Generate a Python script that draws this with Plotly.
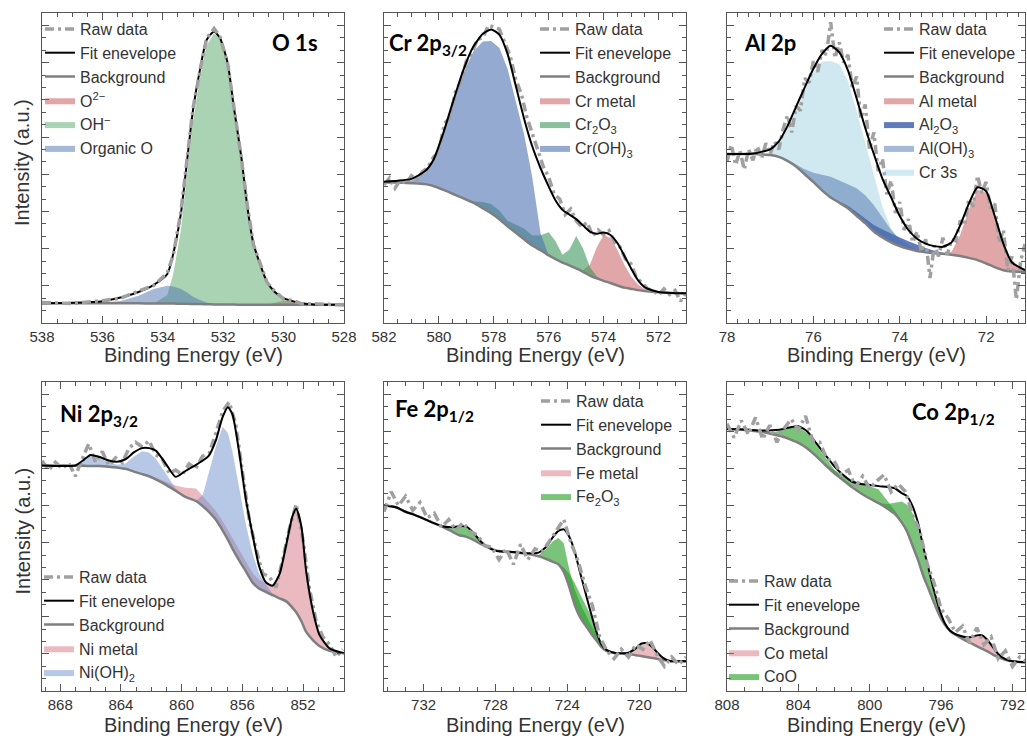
import plotly.graph_objects as go

# ---------------- O 1s ----------------
o_x = [538.0, 537.0, 536.0, 535.4, 534.8, 534.3, 533.85, 533.65, 533.4, 533.2, 533.0, 532.75, 532.55, 532.3,
       532.1, 531.85, 531.65, 531.4, 531.2, 531.0, 530.75, 530.55, 530.3, 530.0, 529.65, 529.4, 529.0, 528.0]
o_env = [6.4, 6.5, 7.0, 8.2, 10.0, 12.3, 15.8, 22.5, 35.4, 52.0, 68.7, 82.7, 91.3, 94.0,
         91.8, 83.8, 69.8, 53.6, 37.5, 25.7, 18.2, 13.3, 10.1, 8.0, 6.9, 6.4, 6.0, 5.9]
o_bg = [6.4, 6.4, 6.4, 6.4, 6.35, 6.3, 6.3, 6.25, 6.2, 6.2, 6.15, 6.1, 6.05, 6.0,
        6.0, 5.95, 5.95, 5.9, 5.9, 5.9, 5.9, 5.9, 5.9, 5.9, 5.9, 5.9, 5.9, 5.9]
o_o2 = [6.4, 6.4, 6.4, 6.4, 6.35, 6.3, 6.3, 6.25, 6.2, 6.2, 6.15, 6.1, 6.05, 6.0,
        6.0, 5.95, 5.95, 5.9, 5.9, 5.9, 5.9, 6.0, 6.5, 7.2, 7.2, 6.6, 6.0, 5.9]
o_oh = [6.4, 6.4, 6.4, 6.4, 6.35, 6.3, 9.0, 16.0, 30.0, 47.0, 65.0, 80.0, 89.5, 93.5,
        91.5, 83.6, 69.6, 53.4, 37.3, 25.5, 18.0, 13.0, 9.8, 7.6, 6.4, 6.0, 5.9, 5.9]
o_org = [6.4, 6.5, 6.6, 7.1, 8.8, 11.0, 12.0, 11.8, 11.0, 9.8, 8.5, 7.3, 6.6, 6.2,
         6.0, 5.95, 5.95, 5.9, 5.9, 5.9, 5.9, 5.9, 5.9, 5.9, 5.9, 5.9, 5.9, 5.9]
o_raw = [6.6, 6.3, 7.2, 8.0, 10.3, 12.1, 16.2, 22.0, 35.9, 51.6, 69.2, 82.3, 91.8, 95.0,
         92.2, 83.5, 70.1, 53.2, 37.9, 25.3, 18.5, 13.1, 10.3, 7.8, 7.1, 6.2, 6.2, 5.8]

# ---------------- Cr 2p3/2 ----------------
cr_x = [582.0, 581.5, 581.0, 580.5, 580.2, 579.85, 579.5, 579.1, 578.75, 578.4, 578.1, 577.8, 577.5, 577.2,
        576.9, 576.6, 576.3, 576.0, 575.75, 575.5, 575.25, 575.0, 574.75, 574.5, 574.25, 574.0, 573.75,
        573.5, 573.25, 573.0, 572.75, 572.5, 572.0, 571.5, 571.0]
cr_env = [45.6, 45.9, 46.5, 49.0, 52.6, 61.0, 71.0, 81.8, 89.1, 93.3, 94.7, 93.0, 86.8, 76.5,
          66.0, 57.0, 50.0, 44.0, 39.5, 36.5, 35.0, 33.5, 31.5, 29.5, 28.8, 29.2, 28.4,
          25.8, 21.8, 17.6, 13.8, 11.5, 10.0, 9.7, 9.6]
cr_bg = [45.3, 45.3, 45.1, 44.8, 44.2, 43.0, 41.7, 40.2, 38.8, 37.0, 35.4, 33.5, 31.2, 29.1,
         27.0, 25.0, 23.5, 21.8, 20.6, 19.5, 18.6, 17.6, 16.5, 15.3, 14.4, 13.6, 12.9,
         12.1, 11.4, 11.0, 10.6, 10.3, 9.9, 9.7, 9.6]
cr_metal = [45.3, 45.3, 45.1, 44.8, 44.2, 43.0, 41.7, 40.2, 38.8, 37.0, 35.4, 33.5, 31.2, 29.1,
            27.0, 25.0, 23.5, 21.8, 20.6, 19.5, 18.6, 17.6, 17.0, 18.8, 24.4, 28.4, 27.4,
            23.6, 18.9, 15.0, 12.4, 10.9, 9.9, 9.7, 9.6]
cr_oxide = [45.3, 45.3, 45.1, 44.8, 44.2, 43.0, 41.7, 40.4, 39.3, 39.0, 38.4, 36.3, 33.0, 31.7,
            30.5, 28.2, 28.3, 29.3, 26.4, 22.0, 23.6, 28.1, 24.0, 18.1, 15.0, 13.6, 12.9,
            12.1, 11.4, 11.0, 10.6, 10.3, 9.9, 9.7, 9.6]
cr_hydrox = [45.3, 45.4, 46.0, 48.5, 52.0, 60.5, 70.5, 80.8, 87.5, 90.8, 91.0, 88.8, 82.0, 71.5,
             61.0, 47.0, 29.0, 21.8, 20.6, 19.5, 18.6, 17.6, 16.5, 15.3, 14.4, 13.6, 12.9,
             12.1, 11.4, 11.0, 10.6, 10.3, 9.9, 9.7, 9.6]
cr_raw_x = [582.0, 581.8, 581.6, 581.4, 581.2, 581.0, 580.8, 580.6, 580.4, 580.2, 580.0, 579.8, 579.6, 579.4,
            579.2, 579.0, 578.8, 578.6, 578.4, 578.2, 578.0, 577.8, 577.6, 577.4, 577.2, 577.0, 576.8, 576.6,
            576.4, 576.2, 576.0, 575.8, 575.6, 575.4, 575.2, 575.0, 574.8, 574.6, 574.4, 574.2, 574.0, 573.8,
            573.6, 573.4, 573.2, 573.0, 572.8, 572.6, 572.4, 572.2, 572.0, 571.8, 571.6, 571.4, 571.2, 571.0]
cr_raw = [44.5, 46.8, 43.5, 46.2, 45.0, 47.5, 46.0, 48.8, 50.2, 53.5, 55.0, 64.5, 66.0, 74.5,
          78.0, 84.5, 87.0, 91.5, 92.0, 96.0, 95.5, 94.8, 90.5, 86.0, 78.5, 74.0, 66.5, 61.0,
          56.0, 50.5, 47.0, 41.5, 40.0, 35.0, 36.8, 33.0, 31.0, 32.5, 28.0, 30.0, 28.5, 29.8,
          26.0, 24.5, 20.5, 19.0, 14.5, 13.0, 11.0, 10.5, 9.0, 11.0, 9.2, 10.5, 7.0, 9.8]

# ---------------- Al 2p ----------------
al_x = [78.0, 77.8, 77.6, 77.4, 77.2, 77.0, 76.8, 76.6, 76.4, 76.2, 76.0, 75.8, 75.6, 75.4, 75.2, 75.0,
        74.8, 74.6, 74.4, 74.2, 74.0, 73.8, 73.6, 73.4, 73.2, 73.0, 72.8, 72.6, 72.4, 72.2, 72.0, 71.8,
        71.6, 71.4, 71.1]
al_env = [54.5, 54.5, 54.5, 54.7, 55.2, 56.0, 58.6, 63.5, 69.8, 76.0, 82.0, 86.8, 89.4, 87.3, 81.5, 72.5,
          63.0, 54.5, 46.5, 40.5, 34.5, 30.0, 27.2, 25.6, 24.8, 24.6, 26.0, 31.5, 38.5, 43.8, 42.5, 34.5,
          25.5, 19.5, 17.1]
al_bg = [54.5, 54.5, 54.5, 54.5, 54.4, 54.2, 53.6, 52.3, 50.5, 48.0, 45.5, 42.8, 40.5, 38.8, 37.0, 34.6,
         32.2, 29.5, 27.6, 26.0, 24.8, 23.9, 23.2, 22.8, 22.5, 22.3, 22.0, 21.6, 21.0, 20.3, 19.2, 18.0,
         17.0, 16.6, 16.5]
al_metal = [54.5, 54.5, 54.5, 54.5, 54.4, 54.2, 53.6, 52.3, 50.5, 48.0, 45.5, 42.8, 40.5, 38.8, 37.0, 34.6,
            32.2, 29.5, 27.6, 26.0, 24.8, 23.9, 23.2, 22.8, 22.5, 22.3, 23.0, 28.5, 36.5, 43.0, 42.0, 34.0,
            25.2, 19.3, 17.1]
al_oxide = [54.5, 54.5, 54.5, 54.5, 54.4, 54.2, 53.6, 52.3, 50.5, 48.0, 45.5, 42.8, 40.5, 39.2, 37.8, 35.8,
            33.8, 31.6, 30.2, 28.8, 27.6, 26.4, 25.2, 24.2, 23.3, 22.6, 22.0, 21.6, 21.0, 20.3, 19.2, 18.0,
            17.0, 16.6, 16.5]
al_hydrox = [54.5, 54.5, 54.5, 54.5, 54.4, 54.2, 53.6, 52.6, 51.0, 49.6, 48.5, 47.8, 47.2, 46.0, 44.8, 43.5,
             41.2, 38.0, 34.0, 30.0, 27.0, 25.0, 23.6, 22.9, 22.5, 22.3, 22.0, 21.6, 21.0, 20.3, 19.2, 18.0,
             17.0, 16.6, 16.5]
al_cr3s = [54.5, 54.5, 54.5, 54.5, 54.4, 54.8, 58.0, 62.8, 69.0, 75.2, 81.0, 84.3, 84.5, 83.5, 78.0, 68.5,
           58.0, 47.5, 37.5, 30.5, 26.5, 24.5, 23.4, 22.9, 22.5, 22.3, 22.0, 21.6, 21.0, 20.3, 19.2, 18.0,
           17.0, 16.6, 16.5]
al_raw_x = [78.0, 77.9, 77.8, 77.7, 77.6, 77.5, 77.4, 77.3, 77.2, 77.1, 77.0,
            76.9, 76.8, 76.7, 76.6, 76.5, 76.4, 76.3, 76.2, 76.1, 76.0,
            75.9, 75.8, 75.7, 75.6, 75.5, 75.4, 75.3, 75.2, 75.1, 75.0,
            74.9, 74.8, 74.7, 74.6, 74.5, 74.4, 74.3, 74.2, 74.1, 74.0,
            73.9, 73.8, 73.7, 73.6, 73.5, 73.4, 73.3, 73.2, 73.1, 73.0,
            72.9, 72.8, 72.7, 72.6, 72.5, 72.4, 72.3, 72.2, 72.1, 72.0,
            71.9, 71.8, 71.7, 71.6, 71.5, 71.4, 71.3, 71.2, 71.1]
al_raw = [52.0, 57.5, 51.0, 55.5, 49.5, 56.0, 52.5, 57.0, 53.0, 58.0, 54.5,
          58.5, 56.0, 62.5, 67.0, 61.5, 70.0, 68.5, 79.0, 77.5, 84.5,
          81.0, 88.0, 86.5, 97.0, 85.5, 90.5, 84.0, 86.5, 76.0, 79.5,
          66.0, 70.5, 56.0, 61.5, 49.0, 53.0, 41.5, 46.0, 35.5, 39.0,
          30.0, 33.5, 26.0, 29.5, 23.0, 27.0, 14.5, 25.0, 21.5, 27.5,
          22.0, 27.0, 26.5, 33.0, 31.5, 40.0, 37.5, 47.5, 42.0, 45.5,
          37.0, 38.5, 26.0, 30.0, 17.0, 21.5, 7.5, 20.0, 25.5]

# ---------------- Ni 2p3/2 ----------------
ni_x = [869.2, 868.1, 867.0, 866.45, 866.0, 865.45, 864.8, 864.25, 863.7, 863.15, 862.6, 862.15, 861.7, 861.05,
        860.4, 859.75, 859.05, 858.6, 858.2, 857.75, 857.3, 856.95, 856.65, 856.2, 855.75, 855.3, 854.9, 854.45,
        854.0, 853.55, 853.1, 852.7, 852.45, 852.1, 851.8, 851.35, 850.9, 850.25, 849.3]
ni_env = [73.0, 72.8, 73.0, 74.8, 76.4, 75.8, 74.6, 74.2, 75.0, 77.2, 78.6, 78.6, 77.8, 73.6,
          69.3, 71.2, 73.2, 74.6, 76.2, 81.0, 88.6, 91.8, 89.5, 77.0, 61.5, 50.0, 40.5, 35.2,
          34.1, 37.8, 47.5, 56.5, 59.0, 53.0, 39.0, 26.0, 18.0, 13.8, 12.2]
ni_bg = [73.0, 73.0, 72.9, 72.9, 72.8, 72.8, 72.6, 72.3, 71.9, 71.0, 70.2, 69.5, 68.5, 66.8,
         64.8, 62.8, 61.5, 59.8, 58.0, 55.5, 52.0, 49.0, 46.1, 42.2, 38.6, 35.0, 33.2, 32.1,
         31.0, 30.0, 29.0, 27.0, 25.5, 22.5, 19.2, 16.5, 14.5, 13.0, 12.2]
ni_metal = [73.0, 73.0, 72.9, 72.9, 72.8, 72.8, 72.6, 72.3, 71.9, 71.0, 70.2, 69.5, 69.0, 67.8,
            66.5, 65.8, 65.5, 63.0, 60.8, 58.3, 55.0, 52.0, 49.2, 45.5, 41.5, 38.0, 36.0, 35.0,
            34.0, 37.5, 47.0, 56.0, 58.5, 52.8, 38.8, 25.8, 17.8, 13.6, 12.2]
ni_hydrox = [73.0, 73.0, 73.0, 74.6, 76.0, 75.4, 74.0, 73.2, 73.6, 75.8, 77.6, 77.2, 75.2, 70.5,
             65.5, 62.8, 61.5, 63.5, 70.5, 79.0, 85.5, 83.5, 77.5, 65.5, 53.5, 44.0, 38.0, 34.5,
             31.5, 30.0, 29.0, 27.0, 25.5, 22.5, 19.2, 16.5, 14.5, 13.0, 12.2]
ni_raw_x = [869.2, 868.76, 868.32, 867.88, 867.44, 867.0, 866.56, 866.12, 865.67, 865.23,
            864.79, 864.35, 863.91, 863.47, 863.03, 862.59, 862.15, 861.71, 861.27, 860.83,
            860.39, 859.95, 859.51, 859.07, 858.62, 858.18, 857.74, 857.3, 856.86, 856.42,
            855.98, 855.54, 855.1, 854.66, 854.22, 853.78, 853.34, 852.9, 852.45, 852.01,
            851.57, 851.13, 850.69, 850.25, 849.81, 849.37]
ni_raw = [74.5, 71.5, 74.0, 72.0, 73.8, 69.5, 75.0, 80.0, 74.0, 77.5,
          73.0, 75.5, 74.0, 78.5, 80.5, 79.0, 81.0, 76.5, 75.0, 70.5,
          71.5, 70.0, 73.5, 72.0, 76.0, 77.0, 83.5, 90.5, 93.5, 86.0,
          70.5, 55.5, 46.0, 38.0, 37.0, 33.5, 42.5, 52.5, 60.5, 49.0,
          33.0, 22.5, 17.5, 15.0, 11.0, 13.5]

# ---------------- Fe 2p1/2 ----------------
fe_x = [734.2, 733.5, 733.0, 732.5, 732.0, 731.5, 731.0, 730.5, 730.0, 729.6, 729.2, 728.8, 728.4, 728.0,
        727.5, 727.0, 726.5, 726.0, 725.6, 725.2, 724.8, 724.5, 724.2, 723.9, 723.6, 723.3, 723.0, 722.7,
        722.4, 722.1, 721.8, 721.4, 721.0, 720.6, 720.2, 719.9, 719.6, 719.3, 719.0, 718.7, 718.3, 717.9, 717.4]
fe_env = [60.1, 59.4, 58.0, 57.0, 55.8, 54.5, 53.4, 53.0, 53.3, 53.2, 51.0, 48.3, 46.5, 45.4,
          45.1, 45.0, 44.7, 44.6, 44.8, 46.5, 49.8, 51.8, 52.3, 50.0, 45.3, 38.5, 32.0, 25.5,
          19.5, 15.0, 13.2, 12.4, 12.2, 12.4, 13.8, 15.3, 15.5, 14.3, 12.5, 10.8, 9.7, 9.6, 9.6]
fe_bg = [60.1, 59.4, 58.0, 57.0, 55.8, 54.5, 53.3, 51.9, 50.4, 49.9, 48.8, 47.5, 46.5, 45.5,
         45.1, 44.9, 44.6, 44.2, 43.6, 42.8, 41.8, 41.0, 38.5, 33.8, 28.0, 24.0, 21.3, 18.8,
         16.5, 14.2, 12.9, 12.3, 12.1, 12.0, 11.6, 11.3, 11.0, 10.7, 10.4, 10.0, 9.7, 9.6, 9.6]
fe_metal = [60.1, 59.4, 58.0, 57.0, 55.8, 54.5, 53.3, 51.9, 50.4, 49.9, 48.8, 47.5, 46.5, 45.5,
            45.1, 44.9, 44.6, 44.2, 43.6, 42.8, 41.8, 41.0, 38.5, 33.8, 28.0, 24.0, 21.3, 18.8,
            16.5, 14.2, 12.9, 12.3, 12.2, 12.4, 13.6, 15.0, 15.2, 14.0, 12.3, 10.6, 9.7, 9.6, 9.6]
fe_ox_a = [60.1, 59.4, 58.0, 57.0, 55.8, 54.5, 53.3, 52.6, 53.0, 52.8, 50.7, 48.0, 46.5, 45.5,
           45.1, 44.9, 44.6, 44.2, 44.0, 45.8, 48.5, 49.5, 47.8, 39.5, 33.0, 28.5, 24.8, 21.5,
           18.5, 15.5, 13.2, 12.3, 12.1, 12.0, 11.6, 11.3, 11.0, 10.7, 10.4, 10.0, 9.7, 9.6, 9.6]
fe_ox_b = [60.1, 59.4, 58.0, 57.0, 55.8, 54.5, 53.3, 51.9, 50.4, 49.9, 48.8, 47.5, 46.5, 45.5,
           45.1, 44.9, 44.6, 44.2, 43.6, 42.8, 41.8, 41.0, 40.0, 38.0, 35.0, 31.5, 28.0, 24.5,
           19.8, 15.6, 13.1, 12.3, 12.1, 12.0, 11.6, 11.3, 11.0, 10.7, 10.4, 10.0, 9.7, 9.6, 9.6]
fe_raw_x = [734.2, 733.8, 733.4, 733.0, 732.6, 732.2, 731.8, 731.4, 731.0, 730.6,
            730.2, 729.8, 729.4, 729.0, 728.6, 728.2, 727.8, 727.4, 727.0, 726.6,
            726.2, 725.8, 725.4, 725.0, 724.6, 724.2, 723.8, 723.4, 723.0, 722.6,
            722.2, 721.8, 721.4, 721.0, 720.6, 720.2, 719.8, 719.4, 719.0, 718.6,
            718.2, 717.8, 717.4]
fe_raw = [58.0, 64.5, 60.0, 63.0, 58.5, 61.0, 56.0, 57.5, 53.0, 55.5,
          52.0, 54.5, 51.5, 50.5, 47.0, 46.5, 42.5, 46.0, 41.0, 47.5,
          42.5, 46.0, 45.0, 48.5, 51.5, 55.5, 48.0, 42.0, 34.0, 27.5,
          17.5, 13.0, 10.5, 13.5, 11.0, 15.0, 13.5, 16.5, 11.5, 8.0,
          11.0, 8.5, 11.0]

# ---------------- Co 2p1/2 ----------------
co_x = [808.0, 807.0, 806.0, 805.5, 805.0, 804.5, 804.0, 803.5, 803.0, 802.5, 802.0, 801.5, 801.0, 800.5,
        800.0, 799.5, 799.0, 798.6, 798.2, 797.9, 797.6, 797.3, 797.0, 796.7, 796.4, 796.1, 795.8, 795.5,
        795.2, 794.9, 794.6, 794.3, 794.0, 793.7, 793.4, 793.1, 792.8, 792.4, 792.0, 791.3]
co_env = [84.8, 84.6, 84.3, 84.4, 84.6, 85.3, 85.7, 84.0, 80.2, 76.5, 72.8, 70.0, 67.8, 67.0,
          66.7, 66.3, 66.0, 65.6, 64.0, 63.0, 59.8, 54.5, 46.5, 39.5, 32.5, 26.5, 22.0, 19.5,
          18.4, 17.8, 17.4, 17.5, 18.0, 18.0, 16.5, 14.2, 12.0, 10.3, 9.6, 9.3]
co_bg = [84.8, 84.5, 83.8, 83.2, 82.5, 81.5, 80.3, 78.5, 76.0, 73.2, 70.5, 68.3, 66.0, 64.0,
         62.3, 60.8, 59.0, 57.3, 54.5, 51.5, 47.0, 42.5, 37.3, 33.0, 28.6, 24.5, 21.5, 19.5,
         18.2, 17.2, 16.2, 15.4, 14.5, 13.6, 12.8, 11.8, 11.0, 10.1, 9.6, 9.3]
co_metal = [84.8, 84.5, 83.8, 83.2, 82.5, 81.5, 80.3, 78.5, 76.0, 73.2, 70.5, 68.3, 66.0, 64.0,
            62.3, 60.8, 59.0, 57.3, 54.5, 51.5, 47.0, 42.5, 37.3, 33.0, 28.6, 24.5, 21.5, 19.5,
            18.3, 17.6, 17.3, 17.4, 17.9, 17.9, 16.4, 14.1, 11.9, 10.3, 9.6, 9.3]
co_oxide_a = [84.8, 84.5, 83.8, 83.6, 84.3, 85.1, 85.4, 83.5, 79.6, 75.5, 71.8, 68.8, 66.5, 64.0,
              62.3, 60.8, 59.0, 57.3, 54.5, 51.5, 47.0, 42.5, 37.3, 33.0, 28.6, 24.5, 21.5, 19.5,
              18.2, 17.2, 16.2, 15.4, 14.5, 13.6, 12.8, 11.8, 11.0, 10.1, 9.6, 9.3]
co_oxide_b = [84.8, 84.5, 83.8, 83.2, 82.5, 81.5, 80.3, 78.5, 76.0, 73.6, 71.5, 69.8, 68.3, 67.3,
              66.3, 65.2, 61.5, 58.5, 55.0, 51.8, 47.2, 42.6, 37.3, 33.0, 28.6, 24.5, 21.5, 19.5,
              18.2, 17.2, 16.2, 15.4, 14.5, 13.6, 12.8, 11.8, 11.0, 10.1, 9.6, 9.3]
co_oxide_c = [84.8, 84.5, 83.8, 83.2, 82.5, 81.5, 80.3, 78.5, 76.0, 73.2, 70.5, 68.3, 66.0, 64.0,
              62.3, 60.8, 60.5, 61.0, 61.3, 60.2, 57.5, 52.5, 45.5, 38.5, 31.5, 26.0, 22.0, 19.5,
              18.2, 17.2, 16.2, 15.4, 14.5, 13.6, 12.8, 11.8, 11.0, 10.1, 9.6, 9.3]
co_raw_x = [808.0, 807.6, 807.2, 806.8, 806.4, 806.0, 805.6, 805.2, 804.8, 804.4,
            804.0, 803.6, 803.2, 802.8, 802.4, 802.0, 801.6, 801.2, 800.8, 800.4,
            800.0, 799.6, 799.2, 798.8, 798.4, 798.0, 797.6, 797.2, 796.8, 796.4,
            796.0, 795.6, 795.2, 794.8, 794.4, 794.0, 793.6, 793.2, 792.8, 792.4,
            792.0, 791.6, 791.2]
co_raw = [86.5, 82.0, 87.5, 83.0, 88.5, 81.5, 86.0, 80.5, 85.0, 88.0,
          84.5, 89.0, 81.0, 80.5, 75.0, 74.5, 70.0, 71.5, 66.0, 69.5,
          65.5, 68.0, 70.0, 64.5, 67.0, 64.5, 57.0, 52.0, 41.5, 35.0,
          26.5, 23.5, 19.0, 21.0, 15.5, 20.5, 15.0, 17.5, 10.5, 13.0,
          8.0, 11.0, 9.5]

# ---------------- styling ----------------
W, H = 1027, 740
FONT = "Liberation Sans, Arial, Helvetica, sans-serif"
TFONT = "Lato, Open Sans, sans-serif"
RAW_COLOR = "#a0a0a0"
BG_COLOR = "#7f7f7f"
AX_COLOR = "#555555"
TXT = "#333333"

RED = "rgba(196,78,82,0.5)"
GREEN_S = "rgba(85,168,104,0.5)"
GREEN_D = "rgba(60,150,90,0.6)"
BLUE_S = "rgba(76,114,176,0.5)"
BLUE_M = "rgba(76,114,176,0.6)"
BLUE_D = "rgba(55,90,170,0.8)"
CYAN = "rgba(150,205,220,0.45)"
PINK = "rgba(210,100,115,0.45)"
NIBLUE = "rgba(110,145,205,0.5)"
GREEN_B = "rgba(40,160,40,0.62)"

cols = [(42, 344), (384, 686), (727, 1025)]
rows = [(13, 323), (382, 691)]

panels = [
    dict(x=o_x, bg=o_bg, env=o_env, rx=o_x, ry=o_raw, xr=[538, 528], dt=2, mdt=0.5, raw_top=True,
         comps=[("O<sup>2−</sup>", o_o2, RED, True, 4), ("OH<sup>−</sup>", o_oh, GREEN_S, True, 5),
                ("Organic O", o_org, BLUE_S, True, 6)],
         title="<b>O 1s</b>", tpos=(295, 43, "center"), lpos=(40, 12)),
    dict(x=cr_x, bg=cr_bg, env=cr_env, rx=cr_raw_x, ry=cr_raw, xr=[582, 571], dt=2, mdt=0.5, raw_top=False,
         comps=[("Cr metal", cr_metal, RED, True, 4), ("Cr<sub>2</sub>O<sub>3</sub>", cr_oxide, GREEN_D, True, 5),
                ("Cr(OH)<sub>3</sub>", cr_hydrox, BLUE_M, True, 6)],
         title="<b>Cr 2p<sub>3/2</sub></b>", tpos=(387, 44, "left"), lpos=(535, 12)),
    dict(x=al_x, bg=al_bg, env=al_env, rx=al_raw_x, ry=al_raw, xr=[78, 71.1], dt=2, mdt=0.25, raw_top=False,
         comps=[("Cr 3s", al_cr3s, CYAN, True, 7), ("Al metal", al_metal, RED, True, 4),
                ("Al<sub>2</sub>O<sub>3</sub>", al_oxide, BLUE_D, True, 5),
                ("Al(OH)<sub>3</sub>", al_hydrox, BLUE_S, True, 6)],
         title="<b>Al 2p</b>", tpos=(742, 43, "left"), lpos=(879, 12)),
    dict(x=ni_x, bg=ni_bg, env=ni_env, rx=ni_raw_x, ry=ni_raw, xr=[869.2, 849.3], dt=4, mdt=1, raw_top=False,
         comps=[("Ni metal", ni_metal, PINK, True, 4), ("Ni(OH)<sub>2</sub>", ni_hydrox, NIBLUE, True, 5)],
         title="<b>Ni 2p<sub>3/2</sub></b>", tpos=(58, 415, "left"), lpos=(39, 560)),
    dict(x=fe_x, bg=fe_bg, env=fe_env, rx=fe_raw_x, ry=fe_raw, xr=[734.2, 717.4], dt=4, mdt=1, raw_top=True,
         comps=[("Fe metal", fe_metal, PINK, True, 4), ("Fe<sub>2</sub>O<sub>3</sub>", fe_ox_a, GREEN_B, True, 5),
                ("Fe<sub>2</sub>O<sub>3</sub>", fe_ox_b, GREEN_B, False, 6)],
         title="<b>Fe 2p<sub>1/2</sub></b>", tpos=(393, 410, "left"), lpos=(536, 384)),
    dict(x=co_x, bg=co_bg, env=co_env, rx=co_raw_x, ry=co_raw, xr=[808, 791.3], dt=4, mdt=1, raw_top=True,
         comps=[("Co metal", co_metal, PINK, True, 4), ("CoO", co_oxide_a, GREEN_B, True, 5),
                ("CoO", co_oxide_b, GREEN_B, False, 6), ("CoO", co_oxide_c, GREEN_B, False, 7)],
         title="<b>Co 2p<sub>1/2</sub></b>", tpos=(910, 413, "left"), lpos=(724, 564)),
]

fig = go.Figure()
annotations = []
layout = dict(width=W, height=H, margin=dict(l=0, r=0, t=0, b=0, autoexpand=False),
              paper_bgcolor="white", plot_bgcolor="white", showlegend=True)

for i, p in enumerate(panels, start=1):
    r, c = divmod(i - 1, 3)
    (l, rr), (t, b) = cols[c], rows[r]
    sfx = "" if i == 1 else str(i)
    xa, ya, lg = "x" + sfx, "y" + sfx, "legend" + sfx

    for name, top, color, show, rank in p["comps"]:
        fig.add_trace(go.Scatter(
            x=list(p["x"]) + list(p["x"])[::-1], y=list(top) + list(p["bg"])[::-1],
            fill="toself", fillcolor=color, mode="lines", line=dict(width=0),
            name=name, showlegend=show, legendrank=rank, legendgroup=lg + name,
            legend=lg, xaxis=xa, yaxis=ya, hoverinfo="skip"))
    bg_tr = go.Scatter(x=p["x"], y=p["bg"], mode="lines",
                       line=dict(color=BG_COLOR, width=2.5, shape="spline", smoothing=0.6),
                       name="Background", legendrank=3, legend=lg, xaxis=xa, yaxis=ya)
    env_tr = go.Scatter(x=p["x"], y=p["env"], mode="lines",
                        line=dict(color="black", width=2, shape="spline", smoothing=0.6),
                        name="Fit enevelope", legendrank=2, legend=lg, xaxis=xa, yaxis=ya)
    raw_tr = go.Scatter(x=p["rx"], y=p["ry"], mode="lines",
                        line=dict(color=RAW_COLOR, width=3.5, dash="9px,4px,3px,4px"),
                        name="Raw data", legendrank=1, legend=lg, xaxis=xa, yaxis=ya)
    fig.add_trace(bg_tr)
    if p["raw_top"]:
        fig.add_trace(env_tr)
        fig.add_trace(raw_tr)
    else:
        fig.add_trace(raw_tr)
        fig.add_trace(env_tr)

    layout["xaxis" + sfx] = dict(
        domain=[l / W, rr / W], anchor=ya, range=p["xr"], autorange=False,
        tick0=0, dtick=p["dt"], ticks="inside", ticklen=7, tickwidth=1.2, tickcolor=AX_COLOR,
        minor=dict(dtick=p["mdt"], ticks="inside", ticklen=4, tickwidth=1, tickcolor=AX_COLOR),
        showline=True, linecolor=AX_COLOR, linewidth=1.3, mirror="ticks",
        showgrid=False, zeroline=False, automargin=False,
        tickfont=dict(family=FONT, size=15, color=TXT))
    layout["yaxis" + sfx] = dict(
        domain=[1 - b / H, 1 - t / H], anchor=xa, range=[0, 100], autorange=False,
        tick0=0, dtick=12, ticks="inside", ticklen=7, tickwidth=1.2, tickcolor=AX_COLOR,
        minor=dict(dtick=4, ticks="inside", ticklen=4, tickwidth=1, tickcolor=AX_COLOR),
        showline=True, linecolor=AX_COLOR, linewidth=1.3, mirror="ticks",
        showgrid=False, zeroline=False, showticklabels=False, automargin=False)
    layout[lg] = dict(x=p["lpos"][0] / W, y=1 - p["lpos"][1] / H, xanchor="left", yanchor="top",
                      bgcolor="rgba(0,0,0,0)", borderwidth=0, itemwidth=30, tracegroupgap=0,
                      traceorder="normal", font=dict(family=FONT, size=16, color=TXT))

    tx, ty, anc = p["tpos"]
    annotations.append(dict(text=p["title"], x=tx / W, y=1 - ty / H, xref="paper", yref="paper",
                            xanchor=anc, yanchor="middle", showarrow=False,
                            font=dict(family=TFONT, size=22, color="black")))
    xt_y = b + (32 if r == 0 else 34)
    annotations.append(dict(text="Binding Energy (eV)", x=(l + rr) / 2 / W, y=1 - xt_y / H,
                            xref="paper", yref="paper", xanchor="center", yanchor="middle",
                            showarrow=False, font=dict(family=FONT, size=20, color=TXT)))
    if c == 0:
        annotations.append(dict(text="Intensity (a.u.)", x=22 / W, y=1 - ((t + b) / 2 - 5) / H,
                                xref="paper", yref="paper", xanchor="center", yanchor="middle",
                                textangle=-90, showarrow=False,
                                font=dict(family=FONT, size=20, color=TXT)))

layout["annotations"] = annotations
fig.update_layout(**layout)
fig.write_html("out.html", config={"displayModeBar": False},
               post_script="document.body.style.margin='0px';document.body.style.overflow='hidden';")
